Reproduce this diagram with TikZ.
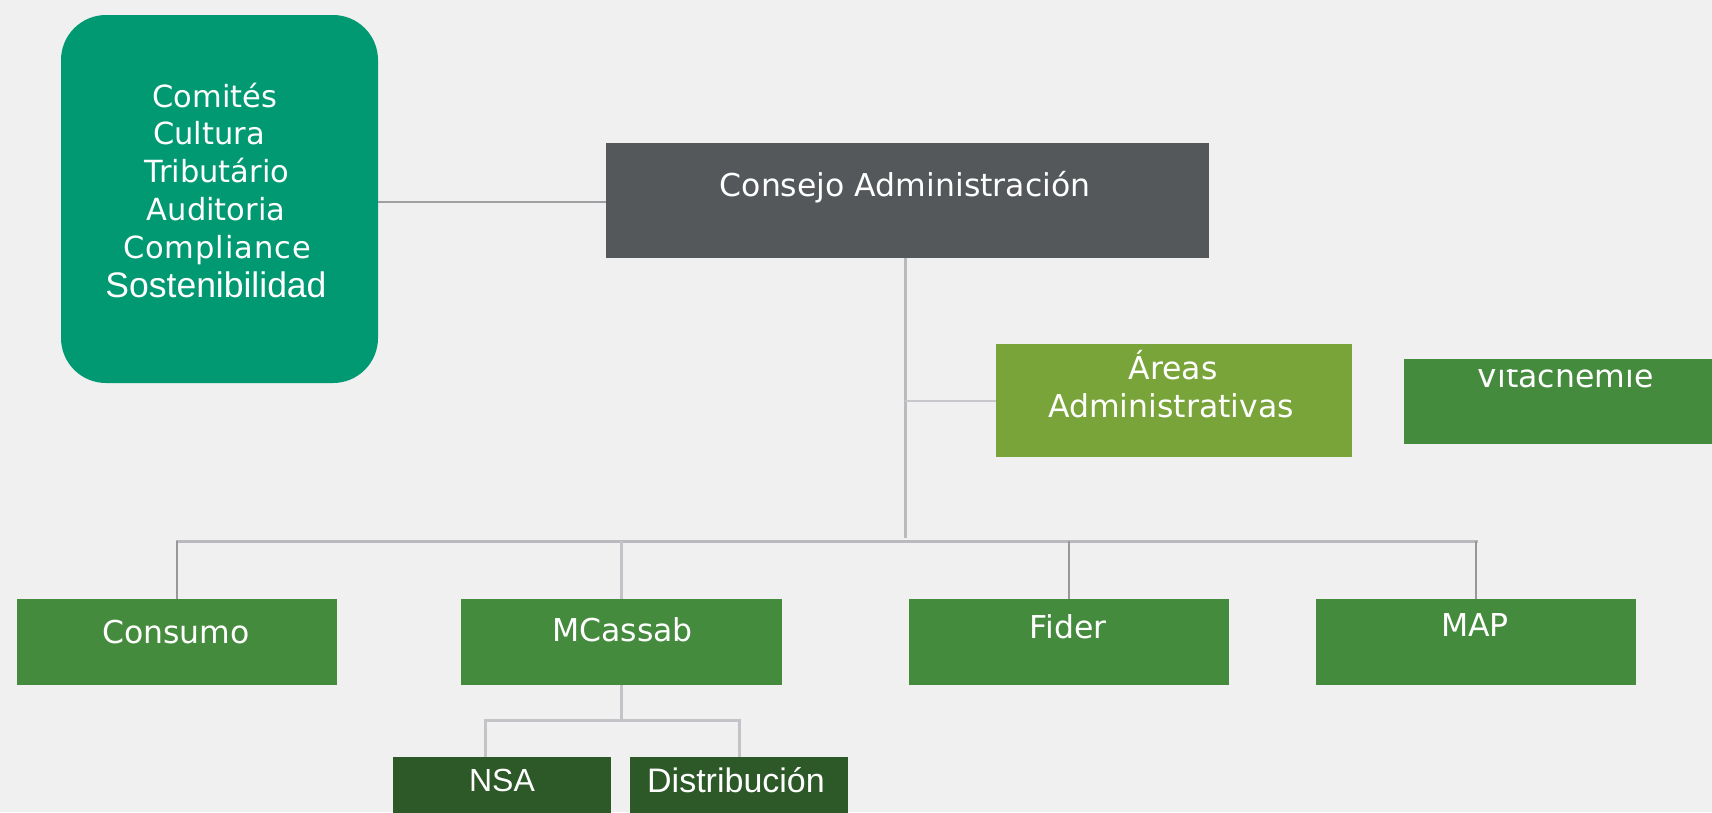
\documentclass[tikz,border=0pt]{standalone}
\usepackage{fontspec}
\newfontfamily\vfont{DejaVu Sans}
\newfontfamily\afont{Liberation Sans}
\definecolor{bgc}{RGB}{240,240,240}
\definecolor{teal}{RGB}{0,153,114}
\definecolor{darkgray}{RGB}{84,88,90}
\definecolor{lightgreen}{RGB}{121,164,58}
\definecolor{midgreen}{RGB}{69,139,61}
\definecolor{darkgreen}{RGB}{45,88,39}
\definecolor{linec}{RGB}{184,186,190}
\definecolor{linel}{RGB}{160,160,162}
\definecolor{lined}{RGB}{152,152,154}
\tikzset{
  boxnode/.style={rectangle, draw=none, inner sep=0pt, outer sep=0pt},
  lbl/.style={anchor=base, inner sep=0pt, text=white, font=\vfont\fontsize{31.5}{36}\selectfont},
  albl/.style={anchor=base, inner sep=0pt, text=white, font=\afont\fontsize{34}{38}\selectfont},
  mainline/.style={draw=linec, line width=3pt},
  thinline/.style={draw=lined, line width=1.6pt},
  sideline/.style={draw=linel, line width=2pt},
}
\begin{document}
\begin{tikzpicture}[x=1pt,y=-1pt]
\useasboundingbox (0,0) rectangle (1712,812);
\clip (0,0) rectangle (1712,812);
\fill[bgc] (0,0) rectangle (1712,812);

% boxes
\node[boxnode, fill=teal, rounded corners=45pt, minimum width=317pt, minimum height=368pt] (comm) at (219.5,199) {};
\node[boxnode, fill=darkgray, minimum width=603pt, minimum height=115pt] (consejo) at (907.5,200.5) {};
\node[boxnode, fill=lightgreen, minimum width=356pt, minimum height=113pt] (areas) at (1174,400.5) {};
\node[boxnode, fill=midgreen, minimum width=320pt, minimum height=85pt] (vita) at (1564,401.5) {};
\node[boxnode, fill=midgreen, minimum width=320pt, minimum height=86pt] (consumo) at (177,642) {};
\node[boxnode, fill=midgreen, minimum width=321pt, minimum height=86pt] (mcassab) at (621.5,642) {};
\node[boxnode, fill=midgreen, minimum width=320pt, minimum height=86pt] (fider) at (1069,642) {};
\node[boxnode, fill=midgreen, minimum width=320pt, minimum height=86pt] (map) at (1476,642) {};
\node[boxnode, fill=darkgreen, minimum width=218pt, minimum height=83pt] (nsa) at (502,798.5) {};
\node[boxnode, fill=darkgreen, minimum width=218pt, minimum height=83pt] (distr) at (739,798.5) {};

% connector points
\coordinate (bus) at (905,541);
\coordinate (sub) at (622,720);

% connectors
\draw[sideline] (consejo.west |- 0,202) -- (comm.east |- 0,202);
\draw[mainline] (consejo.south -| bus) -- ([yshift=3pt]bus);
\draw[sideline, draw=linec!80] (areas.west) -- (areas.west -| bus);
\draw[mainline, line cap=rect] (consumo.north |- bus) -- (map.north |- bus);
\draw[thinline] (consumo.north) -- (consumo.north |- bus);
\draw[mainline, draw=linec!85] (mcassab.north) -- (mcassab.north |- bus);
\draw[thinline] (fider.north) -- (fider.north |- bus);
\draw[thinline] (map.north) -- (map.north |- bus);
\draw[mainline, draw=linec!85] (mcassab.south) -- (mcassab.south |- sub);
\draw[mainline, draw=linec!85] ([xshift=-17pt]nsa.north) -- ([xshift=-17pt]nsa.north |- sub) -- (distr.north |- sub) -- (distr.north);

% texts
\node[lbl, font=\vfont\fontsize{30.5}{36}\selectfont] (t1) at (215,107) {Comités};
\node[lbl, font=\vfont\fontsize{30.5}{36}\selectfont] (t2) at (209,144) {Cultura};
\node[lbl, font=\vfont\fontsize{30.5}{36}\selectfont] (t3) at (217,182) {Tributário};
\node[lbl, font=\vfont\fontsize{30.5}{36}\selectfont] (t4) at (216,220) {Auditoria};
\node[lbl, font=\vfont\fontsize{30.5}{36}\selectfont\addfontfeature{LetterSpace=3}] (t5) at (217,258) {Compliance};
\node[albl, font=\afont\fontsize{35.5}{40}\selectfont] (t6) at (216,297) {Sostenibilidad};

\node[lbl] (tcons) at (905,196) {Consejo Administración};
\node[lbl] (tar1) at (1173,379) {Áreas};
\node[lbl] (tar2) at (1171,417) {Administrativas};
\begin{scope}
  \clip (1404,369.5) rectangle (1712,444);
  \node[lbl] (tvita) at (1565,387) {Vitachemie};
\end{scope}
\node[lbl] (tconsumo) at (176,643) {Consumo};
\node[lbl] (tmcassab) at (622.5,641) {MCassab};
\node[lbl] (tfider) at (1068,638) {Fider};
\node[lbl] (tmap) at (1475,636) {MAP};
\node[albl, font=\afont\fontsize{32}{36}\selectfont] (tnsa) at (502,791) {NSA};
\node[albl] (tdistr) at (736,792) {Distribución};
\end{tikzpicture}
\end{document}
